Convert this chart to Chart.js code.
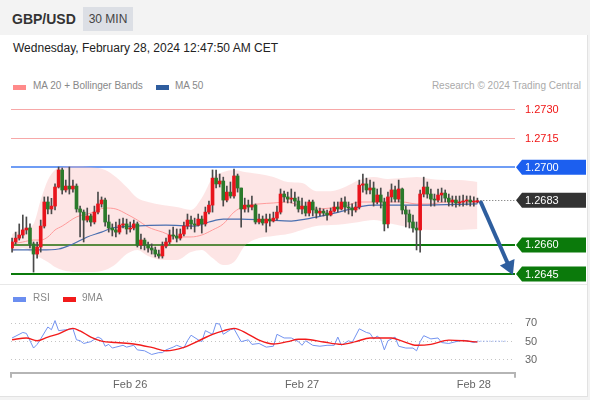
<!DOCTYPE html>
<html>
<head>
<meta charset="utf-8">
<script src="https://cdn.jsdelivr.net/npm/chart.js@4.4.1/dist/chart.umd.min.js"></script>
<style>
  body { margin: 0; background: #fff; font-family: "Liberation Sans", Arial, sans-serif; }
  #wrap { position: relative; width: 590px; height: 400px; overflow: hidden; background: #f3f3f3; }
  #panel { position: absolute; left: 0; top: 35px; width: 587px; height: 361px; background: #fff;
           border-right: 1px solid #e2e2e2; border-bottom: 1px solid #e2e2e2; }
  .abs { position: absolute; white-space: nowrap; }
  #pair { left: 12px; top: 11px; font-size: 14px; font-weight: bold; color: #333; }
  #tf { left: 83px; top: 7px; width: 50px; height: 24px; line-height: 24px; text-align: center;
        background: #dcdfe5; font-size: 12px; color: #444; }
  #stamp { left: 13px; top: 41px; font-size: 12px; color: #222; }
  .lg { font-size: 10px; color: #888; }
  .sw { position: absolute; height: 5px; width: 13px; }
  #copy { right: 9px; top: 80px; font-size: 10px; color: #aaa; }
  #sep { position: absolute; left: 0; top: 284px; width: 587px; height: 1px; background: #e8e8e8; }
  canvas { position: absolute; left: 0; }
</style>
</head>
<body>
<div id="wrap">
  <div id="panel"></div>
  <div class="abs" id="pair">GBP/USD</div>
  <div class="abs" id="tf">30 MIN</div>
  <div class="abs" id="stamp">Wednesday, February 28, 2024 12:47:50 AM CET</div>

  <div class="sw" style="left:13px; top:85px; background:#ff8a8a;"></div>
  <div class="abs lg" style="left:33px; top:80px;">MA 20 + Bollinger Bands</div>
  <div class="sw" style="left:156px; top:85px; background:#2f5d9e;"></div>
  <div class="abs lg" style="left:175px; top:80px;">MA 50</div>
  <div class="abs" id="copy">Research © 2024 Trading Central</div>

  <canvas id="priceChart" width="590" height="190" style="top:97px;"></canvas>
  <div id="sep"></div>
  <canvas id="rsiChart" width="590" height="112" style="top:287px;"></canvas>

  <div class="sw" style="left:13px; top:297px; background:#6b8ef0;"></div>
  <div class="abs lg" style="left:33px; top:292px;">RSI</div>
  <div class="sw" style="left:63px; top:297px; background:#f21b1b;"></div>
  <div class="abs lg" style="left:82px; top:292px;">9MA</div>
</div>

<script>
// GBP/USD 30 min candles, index 0 = first bar on the chart
const candleOpen = [
  1.26584, 1.26615, 1.26635, 1.26651, 1.26677, 1.26687, 1.26605, 1.26553, 1.26589, 1.26697,
  1.26821, 1.26785, 1.26800, 1.26898, 1.26986, 1.26883, 1.26903, 1.26888, 1.26903, 1.26785,
  1.26769, 1.26728, 1.26749, 1.26718, 1.26769, 1.26811, 1.26831, 1.26718, 1.26687, 1.26677,
  1.26666, 1.26702, 1.26708, 1.26682, 1.26687, 1.26708, 1.26599, 1.26625, 1.26599, 1.26584,
  1.26574, 1.26553, 1.26543, 1.26594, 1.26615, 1.26651, 1.26646, 1.26635, 1.26656, 1.26697,
  1.26728, 1.26708, 1.26702, 1.26733, 1.26708, 1.26769, 1.26805, 1.26944, 1.26914, 1.26929,
  1.26831, 1.26872, 1.26852, 1.26955, 1.26893, 1.26785, 1.26805, 1.26795, 1.26805, 1.26718,
  1.26733, 1.26713, 1.26733, 1.26723, 1.26738, 1.26769, 1.26862, 1.26847, 1.26836, 1.26841,
  1.26826, 1.26785, 1.26800, 1.26764, 1.26821, 1.26780, 1.26764, 1.26774, 1.26764, 1.26754,
  1.26774, 1.26795, 1.26785, 1.26821, 1.26795, 1.26790, 1.26780, 1.26795, 1.26908, 1.26914,
  1.26883, 1.26893, 1.26821, 1.26857, 1.26821, 1.26708, 1.26847, 1.26883, 1.26836, 1.26888,
  1.26780, 1.26759, 1.26718, 1.26687, 1.26677, 1.26862, 1.26898, 1.26862, 1.26836, 1.26831,
  1.26857, 1.26867, 1.26841, 1.26821, 1.26831, 1.26816, 1.26821, 1.26826, 1.26831, 1.26821,
  1.26821
];
const candleHigh = [
  1.26635, 1.26666, 1.26708, 1.26754, 1.26744, 1.26708, 1.26615, 1.26615, 1.26728, 1.26847,
  1.26847, 1.26840, 1.26914, 1.27001, 1.26996, 1.26934, 1.27001, 1.26934, 1.26914, 1.26800,
  1.26780, 1.26790, 1.26759, 1.26800, 1.26872, 1.26847, 1.26841, 1.26754, 1.26708, 1.26718,
  1.26733, 1.26738, 1.26733, 1.26718, 1.26728, 1.26718, 1.26656, 1.26635, 1.26615, 1.26605,
  1.26589, 1.26574, 1.26615, 1.26635, 1.26677, 1.26692, 1.26682, 1.26682, 1.26718, 1.26759,
  1.26749, 1.26738, 1.26759, 1.26749, 1.26795, 1.26826, 1.26986, 1.26986, 1.26965, 1.26949,
  1.26903, 1.26924, 1.26991, 1.26965, 1.26893, 1.26841, 1.26831, 1.26852, 1.26811, 1.26759,
  1.26749, 1.26759, 1.26759, 1.26769, 1.26800, 1.26888, 1.26877, 1.26872, 1.26888, 1.26872,
  1.26847, 1.26841, 1.26821, 1.26831, 1.26831, 1.26795, 1.26790, 1.26785, 1.26780, 1.26790,
  1.26821, 1.26821, 1.26841, 1.26847, 1.26821, 1.26811, 1.26821, 1.26934, 1.26965, 1.26944,
  1.26934, 1.26924, 1.26888, 1.26893, 1.26841, 1.26872, 1.26914, 1.26903, 1.26934, 1.26893,
  1.26800, 1.26780, 1.26754, 1.26718, 1.26883, 1.26949, 1.26924, 1.26888, 1.26862, 1.26888,
  1.26893, 1.26883, 1.26862, 1.26852, 1.26852, 1.26852, 1.26857, 1.26852, 1.26852, 1.26847,
  1.26841
];
const candleLow = [
  1.26563, 1.26605, 1.26625, 1.26635, 1.26656, 1.26584, 1.26460, 1.26532, 1.26563, 1.26687,
  1.26759, 1.26760, 1.26780, 1.26893, 1.26862, 1.26872, 1.26862, 1.26872, 1.26769, 1.26641,
  1.26615, 1.26718, 1.26697, 1.26708, 1.26759, 1.26795, 1.26697, 1.26666, 1.26646, 1.26641,
  1.26656, 1.26687, 1.26656, 1.26666, 1.26677, 1.26589, 1.26579, 1.26574, 1.26563, 1.26553,
  1.26538, 1.26532, 1.26532, 1.26584, 1.26605, 1.26630, 1.26615, 1.26625, 1.26646, 1.26682,
  1.26682, 1.26666, 1.26697, 1.26661, 1.26697, 1.26759, 1.26769, 1.26893, 1.26898, 1.26800,
  1.26821, 1.26841, 1.26841, 1.26872, 1.26692, 1.26769, 1.26769, 1.26780, 1.26708, 1.26708,
  1.26702, 1.26666, 1.26697, 1.26718, 1.26728, 1.26759, 1.26821, 1.26816, 1.26816, 1.26800,
  1.26769, 1.26759, 1.26749, 1.26749, 1.26749, 1.26738, 1.26749, 1.26749, 1.26728, 1.26749,
  1.26769, 1.26769, 1.26780, 1.26769, 1.26759, 1.26749, 1.26769, 1.26785, 1.26872, 1.26862,
  1.26862, 1.26800, 1.26811, 1.26790, 1.26672, 1.26687, 1.26821, 1.26821, 1.26821, 1.26759,
  1.26692, 1.26687, 1.26666, 1.26574, 1.26563, 1.26847, 1.26841, 1.26800, 1.26800, 1.26821,
  1.26821, 1.26821, 1.26800, 1.26800, 1.26795, 1.26800, 1.26800, 1.26805, 1.26800, 1.26800,
  1.26816
];
const candleClose = [
  1.26615, 1.26635, 1.26651, 1.26677, 1.26687, 1.26605, 1.26553, 1.26589, 1.26697, 1.26821,
  1.26785, 1.26800, 1.26898, 1.26986, 1.26883, 1.26903, 1.26888, 1.26903, 1.26785, 1.26769,
  1.26728, 1.26749, 1.26718, 1.26769, 1.26811, 1.26831, 1.26718, 1.26687, 1.26677, 1.26666,
  1.26702, 1.26708, 1.26682, 1.26687, 1.26708, 1.26599, 1.26625, 1.26599, 1.26584, 1.26574,
  1.26553, 1.26543, 1.26594, 1.26615, 1.26651, 1.26646, 1.26635, 1.26656, 1.26697, 1.26728,
  1.26708, 1.26702, 1.26733, 1.26708, 1.26769, 1.26805, 1.26944, 1.26914, 1.26929, 1.26831,
  1.26872, 1.26852, 1.26955, 1.26893, 1.26785, 1.26805, 1.26795, 1.26805, 1.26718, 1.26733,
  1.26713, 1.26733, 1.26723, 1.26738, 1.26769, 1.26862, 1.26847, 1.26836, 1.26841, 1.26826,
  1.26785, 1.26800, 1.26764, 1.26821, 1.26780, 1.26764, 1.26774, 1.26764, 1.26754, 1.26774,
  1.26795, 1.26785, 1.26821, 1.26795, 1.26790, 1.26780, 1.26795, 1.26908, 1.26914, 1.26883,
  1.26893, 1.26821, 1.26857, 1.26821, 1.26708, 1.26847, 1.26883, 1.26836, 1.26888, 1.26780,
  1.26759, 1.26718, 1.26687, 1.26677, 1.26862, 1.26898, 1.26862, 1.26836, 1.26831, 1.26857,
  1.26867, 1.26841, 1.26821, 1.26831, 1.26816, 1.26821, 1.26826, 1.26831, 1.26821, 1.26821,
  1.26828
];

// Bollinger band (MA 20) at these bar indices
const bandIdx = [0, 3, 6, 8, 10, 12, 14, 18, 22, 26, 29, 32, 35, 38, 42, 46, 50, 53, 56, 59,
                 62, 65, 69, 73, 77, 81, 85, 89, 93, 97, 101, 105, 109, 113, 117, 121, 125, 130];
const bandUpper = [1.26656, 1.26682, 1.26708, 1.26831, 1.26934, 1.26986, 1.27001, 1.27006, 1.27001, 1.26986,
                   1.26950, 1.26898, 1.26841, 1.26821, 1.26805, 1.26795, 1.26780, 1.26841, 1.26944, 1.26975,
                   1.26986, 1.26975, 1.26965, 1.26950, 1.26924, 1.26919, 1.26877, 1.26877, 1.26898, 1.26934,
                   1.26950, 1.26939, 1.26944, 1.26950, 1.26939, 1.26934, 1.26934, 1.26924];
const bandLower = [1.26563, 1.26584, 1.26553, 1.26532, 1.26512, 1.26486, 1.26471, 1.26460, 1.26460, 1.26471,
                   1.26502, 1.26553, 1.26574, 1.26543, 1.26522, 1.26522, 1.26563, 1.26574, 1.26532, 1.26496,
                   1.26512, 1.26594, 1.26635, 1.26646, 1.26656, 1.26677, 1.26697, 1.26702, 1.26708, 1.26718,
                   1.26728, 1.26713, 1.26697, 1.26682, 1.26677, 1.26677, 1.26677, 1.26682];
const ma20 = [1.26605, 1.26615, 1.26625, 1.26625, 1.26641, 1.26677, 1.26697, 1.26744, 1.26764, 1.26790,
              1.26785, 1.26759, 1.26728, 1.26692, 1.26666, 1.26641, 1.26641, 1.26651, 1.26677, 1.26708,
              1.26769, 1.26800, 1.26811, 1.26816, 1.26821, 1.26795, 1.26785, 1.26790, 1.26800, 1.26821,
              1.26821, 1.26821, 1.26821, 1.26811, 1.26811, 1.26821, 1.26821, 1.26821];

const ma50Idx = [0, 8, 13, 17, 21, 25, 28, 34, 43, 51, 55, 59, 64, 71, 78, 82, 89, 101, 114, 130];
const ma50 = [1.26574, 1.26574, 1.26579, 1.26605, 1.26641, 1.26666, 1.26687, 1.26697, 1.26702, 1.26697,
              1.26718, 1.26733, 1.26733, 1.26728, 1.26723, 1.26733, 1.26759, 1.26805, 1.26805, 1.26811];

// key levels on the right
const levelPrices = [1.2730, 1.2715, 1.2700, 1.2660, 1.2645];
const levelLabels = ['1.2730', '1.2715', '1.2700', '1.2660', '1.2645'];
const levelColors = ['#f7a8a8', '#f7a8a8', '#3f7cf2', '#0b7a0b', '#0b7a0b'];
const levelWidths = [1, 1, 1.5, 2, 2];
const levelTagFill = [null, null, '#1c5fef', '#0b7a0b', '#0b7a0b'];
const lastPrice = 1.2683;
const lastLabel = '1.2683';

// expected move arrow (bar index, price)
const arrowFrom = [130.8, 1.26826];
const arrowTo = [139.9, 1.26445];

// RSI panel
const rsiIdx = [0, 3, 4, 6, 7, 8, 10, 11, 12, 13, 15, 17, 18, 19, 20, 22, 24, 25, 26, 27,
                28, 29, 31, 32, 34, 35, 37, 38, 39, 41, 42, 43, 45, 46, 48, 49, 50, 52, 53, 54,
                56, 57, 58, 59, 61, 62, 64, 66, 67, 69, 71, 73, 74, 76, 78, 80, 81, 82, 84, 86,
                88, 90, 91, 92, 94, 95, 97, 99, 100, 101, 102, 103, 104, 105, 106, 107, 108, 110, 112, 113,
                114, 115, 117, 119, 120, 122, 124, 126, 127, 129, 130];
const rsiVals = [54, 60, 59, 43, 47, 53, 66, 63, 73, 62, 63, 64, 52, 51, 48, 50, 55, 53, 45, 47,
                 43, 44, 46, 44, 46, 41, 40, 38, 36, 38, 38, 41, 44, 46, 43, 51, 57, 52, 50, 62,
                 58, 70, 69, 58, 63, 64, 50, 52, 47, 48, 44, 45, 58, 54, 54, 50, 46, 51, 46, 45,
                 46, 46, 55, 46, 51, 49, 64, 60, 59, 53, 56, 53, 41, 51, 53, 55, 45, 43, 43, 40,
                 50, 56.5, 53, 54, 49, 48, 50, 51.5, 51, 49, 50.5];
const rsiTailEnd = 138.2;
const maIdx = [0, 4, 7, 10, 13, 17, 19, 22, 25, 29, 34, 39, 43, 48, 53, 56, 59, 62, 66, 69,
               73, 77, 80, 82, 87, 92, 96, 100, 106, 109, 113, 117, 122, 126, 130];
const maVals = [52, 54, 51, 55, 58.5, 64.5, 61.7, 55, 50.6, 49, 47.5, 43.7, 40, 43.7, 52.6, 58, 61.8, 64.5, 58, 51.7,
                47.5, 50, 52.6, 52.6, 49.6, 47, 50, 54, 54, 50.6, 46, 47, 51.7, 51, 49.5];
const rsiTicks = [30, 50, 70];

const dayTicks = [33, 81, 129];
const dayLabels = ['Feb 26', 'Feb 27', 'Feb 28'];

const xMin = -0.3, xMax = 140.5;
const FONT = '"Liberation Sans", Arial, sans-serif';
const UP = '#e8141c', DOWN = '#2b7a2b', WICK = '#4a4a4a';

const pts = (xs, ys) => xs.map((x, i) => ({ x: x, y: ys[i] }));

// ---------- price panel ----------
const bodies = candleOpen.map((o, i) => ({ x: i, y: [o, candleClose[i]] }));
const wicks = candleOpen.map((o, i) => ({ x: i, y: [candleLow[i], candleHigh[i]] }));
const bodyColors = candleOpen.map((o, i) => candleClose[i] >= o ? UP : DOWN);

function drawTag(ctx, y, text, fill) {
  ctx.fillStyle = fill;
  ctx.beginPath();
  ctx.moveTo(516, y);
  ctx.lineTo(522, y - 7.5);
  ctx.lineTo(586, y - 7.5);
  ctx.lineTo(586, y + 7.5);
  ctx.lineTo(522, y + 7.5);
  ctx.closePath();
  ctx.fill();
  ctx.fillStyle = '#fff';
  ctx.fillText(text, 525, y + 0.5);
}

const levelPlugin = {
  id: 'levels',
  beforeDatasetsDraw(chart) {
    const { ctx, chartArea, scales: { x, y } } = chart;
    ctx.save();
    levelPrices.forEach((p, k) => {
      const w = levelWidths[k];
      let py = Math.round(y.getPixelForValue(p));
      if (w % 2 === 1) py += 0.5;
      ctx.strokeStyle = levelColors[k];
      ctx.lineWidth = w;
      ctx.beginPath();
      ctx.moveTo(chartArea.left, py);
      ctx.lineTo(chartArea.right, py);
      ctx.stroke();
    });
    // dotted last price line
    const ly = Math.round(y.getPixelForValue(lastPrice)) + 0.5;
    ctx.strokeStyle = '#666';
    ctx.lineWidth = 1;
    ctx.setLineDash([1, 2]);
    ctx.beginPath();
    ctx.moveTo(x.getPixelForValue(candleClose.length - 0.2), ly);
    ctx.lineTo(chartArea.right, ly);
    ctx.stroke();
    ctx.restore();
  },
  afterDatasetsDraw(chart) {
    const { ctx, scales: { x, y } } = chart;
    const x0 = x.getPixelForValue(arrowFrom[0]), y0 = y.getPixelForValue(arrowFrom[1]);
    const x1 = x.getPixelForValue(arrowTo[0]), y1 = y.getPixelForValue(arrowTo[1]);
    const len = Math.hypot(x1 - x0, y1 - y0);
    const dx = (x1 - x0) / len, dy = (y1 - y0) / len;
    const head = 14, half = 8;
    const bx = x1 - dx * head, by = y1 - dy * head;
    ctx.save();
    ctx.strokeStyle = '#2e5e9e';
    ctx.fillStyle = '#2e5e9e';
    ctx.lineWidth = 4;
    ctx.beginPath();
    ctx.moveTo(x0, y0);
    ctx.lineTo(bx + dx * 2, by + dy * 2);
    ctx.stroke();
    ctx.beginPath();
    ctx.moveTo(x1, y1);
    ctx.lineTo(bx - dy * half, by + dx * half);
    ctx.lineTo(bx + dy * half, by - dx * half);
    ctx.closePath();
    ctx.fill();
    ctx.restore();
  },
  afterDraw(chart) {
    const { ctx, scales: { y } } = chart;
    ctx.save();
    ctx.font = '11px ' + FONT;
    ctx.textBaseline = 'middle';
    ctx.textAlign = 'left';
    levelPrices.forEach((p, k) => {
      const py = y.getPixelForValue(p);
      if (levelTagFill[k]) {
        drawTag(ctx, py, levelLabels[k], levelTagFill[k]);
      } else {
        ctx.fillStyle = '#f01515';
        ctx.fillText(levelLabels[k], 525, py + 0.5);
      }
    });
    drawTag(ctx, y.getPixelForValue(lastPrice), lastLabel, '#333333');
    ctx.restore();
  }
};

new Chart(document.getElementById('priceChart'), {
  type: 'bar',
  data: {
    datasets: [
      {
        type: 'line', data: pts(bandIdx, bandUpper), borderWidth: 0, pointRadius: 0,
        fill: '+1', backgroundColor: 'rgba(250, 175, 175, 0.33)', cubicInterpolationMode: 'monotone', order: 10
      },
      {
        type: 'line', data: pts(bandIdx, bandLower), borderWidth: 0, pointRadius: 0,
        fill: false, cubicInterpolationMode: 'monotone', order: 11
      },
      {
        type: 'line', data: pts(bandIdx, ma20), borderColor: '#ff9a9a', borderWidth: 1, pointRadius: 0,
        fill: false, cubicInterpolationMode: 'monotone', order: 5
      },
      {
        type: 'line', data: pts(ma50Idx, ma50), borderColor: '#4a6fb0', borderWidth: 1.2, pointRadius: 0,
        fill: false, cubicInterpolationMode: 'monotone', order: 4
      },
      {
        data: wicks, backgroundColor: WICK, barThickness: 1, grouped: false, order: 2
      },
      {
        data: bodies, backgroundColor: bodyColors, barThickness: 3, minBarLength: 1, grouped: false, order: 1
      }
    ]
  },
  options: {
    responsive: false,
    animation: false,
    events: [],
    layout: { padding: { left: 11, right: 75, top: 5, bottom: 5 } },
    plugins: { legend: { display: false }, tooltip: { enabled: false } },
    scales: {
      x: { type: 'linear', min: xMin, max: xMax, offset: false, display: false },
      y: { min: 1.26409, max: 1.27336, display: false }
    }
  },
  plugins: [levelPlugin]
});

// ---------- RSI panel ----------
const axisEnds = {
  id: 'axisEnds',
  afterDraw(chart) {
    const { ctx, chartArea } = chart;
    ctx.save();
    ctx.strokeStyle = '#b5b5b5';
    ctx.lineWidth = 2;
    ctx.beginPath();
    ctx.moveTo(chartArea.left, chartArea.bottom);
    ctx.lineTo(chartArea.left, chartArea.bottom + 5);
    ctx.moveTo(chartArea.right, chartArea.bottom);
    ctx.lineTo(chartArea.right, chartArea.bottom + 5);
    ctx.stroke();
    ctx.restore();
  }
};

const lastRsi = rsiVals[rsiVals.length - 1];

new Chart(document.getElementById('rsiChart'), {
  type: 'line',
  data: {
    datasets: [
      {
        data: pts(maIdx, maVals), borderColor: '#f21b1b', borderWidth: 1.4, pointRadius: 0,
        cubicInterpolationMode: 'monotone', order: 1
      },
      {
        data: pts(rsiIdx, rsiVals), borderColor: '#7393f0', borderWidth: 1, pointRadius: 0,
        tension: 0, order: 2
      },
      {
        data: [{ x: rsiIdx[rsiIdx.length - 1], y: lastRsi }, { x: rsiTailEnd, y: lastRsi }],
        borderColor: '#7393f0', borderWidth: 1, borderDash: [1, 2], pointRadius: 0, order: 3
      }
    ]
  },
  options: {
    responsive: false,
    animation: false,
    events: [],
    layout: { padding: { left: 11, right: 15, top: 20, bottom: 1 } },
    plugins: { legend: { display: false }, tooltip: { enabled: false } },
    scales: {
      x: {
        type: 'linear', min: xMin, max: xMax, offset: false,
        grid: { display: false, drawTicks: false },
        border: { display: true, color: '#b5b5b5', width: 2 },
        afterBuildTicks: (s) => { s.ticks = dayTicks.map(v => ({ value: v })); },
        ticks: {
          padding: 6, autoSkip: false, maxRotation: 0, color: '#666',
          font: { size: 11, family: FONT },
          callback: (v) => dayLabels[dayTicks.indexOf(v)] || ''
        }
      },
      y: {
        position: 'right', min: 16, max: 87.8,
        afterBuildTicks: (s) => { s.ticks = rsiTicks.map(v => ({ value: v })); },
        afterFit: (s) => { s.width = 60; },
        grid: { color: '#c4c4c4', drawTicks: false },
        border: { display: false, dash: [1, 3] },
        ticks: { padding: 10, color: '#666', font: { size: 11, family: FONT } }
      }
    }
  },
  plugins: [axisEnds]
});
</script>
</body>
</html>
